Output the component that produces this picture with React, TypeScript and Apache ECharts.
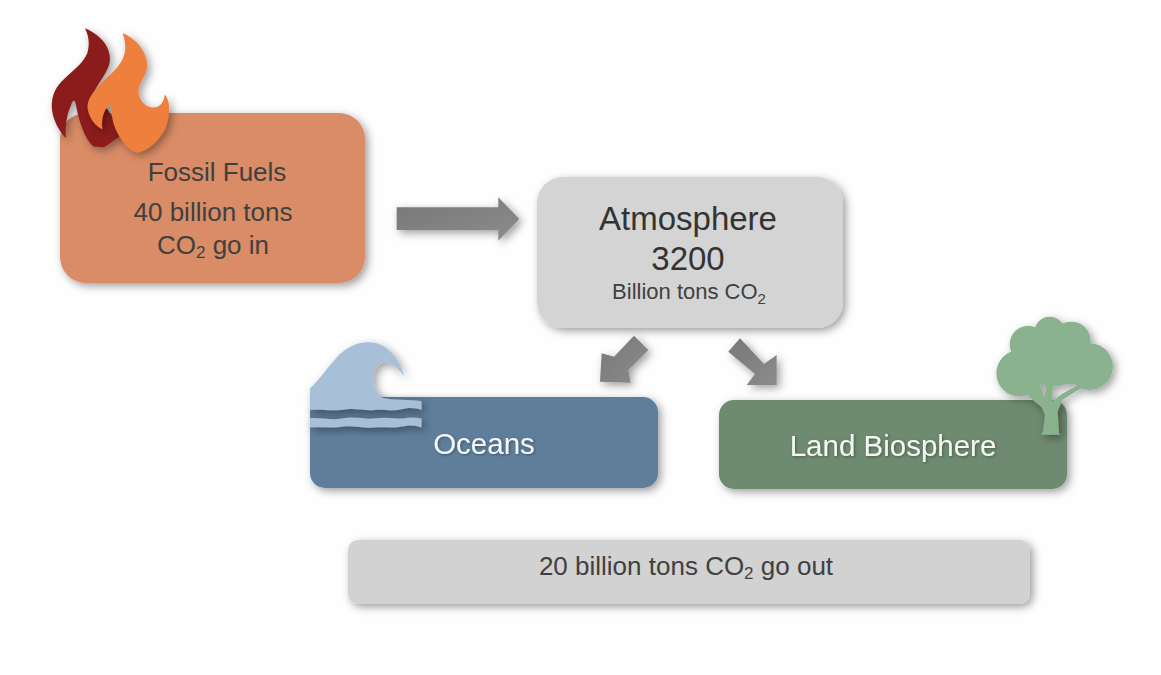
import React, { useEffect, useRef } from "react";
import * as echarts from "echarts";

const FONT = '"Liberation Sans", Arial, sans-serif';
const fossilLabels = ["Fossil Fuels", "40 billion tons"];
const atmosphereLabels = ["Atmosphere", "3200"];
const sinkLabels = ["Oceans", "Land Biosphere"];

const flameDark = "M165 55 C205 72 242 105 240 150 C238 180 215 205 195 240 L280 372 L222 412 L190 410 C165 385 148 340 138 285 C134 268 128 268 122 290 C110 315 105 350 108 385 C72 345 55 295 72 250 C92 200 150 180 172 130 C180 105 177 78 165 55 Z";
const flameOrange = "M278 70 C320 85 354 130 352 170 C350 200 320 225 327 255 C334 285 365 300 385 290 C398 282 404 268 404 254 C420 270 424 305 407 355 C387 395 355 420 325 428 C298 425 275 395 258 360 C247 335 245 310 243 286 C225 290 213 320 217 358 C198 350 178 328 173 295 C170 255 215 220 255 180 C285 150 295 115 278 70 Z";
const waveTop = "M30 175 C60 148 90 102 120 72 C150 45 190 30 230 40 C270 52 305 95 312 140 C297 112 268 92 243 100 C215 115 212 172 245 203 C280 213 330 208 365 214 L365 240 C345 233 330 232 305 238 C280 245 255 238 225 240 C195 243 170 234 140 238 C105 245 70 238 30 240 Z";
const waveBand = "M30 265 C60 262 95 272 125 266 C160 258 190 268 220 266 C255 260 285 266 310 266 C330 262 345 262 365 266 L365 293 C345 285 330 285 305 290 C280 296 250 290 220 293 C190 296 160 285 130 290 C95 296 65 290 30 293 Z";
const treeShape = "M1050 50 A45 45 0 0 1 1095 95 A45 45 0 0 1 1050 140 A45 45 0 0 1 1005 95 A45 45 0 0 1 1050 50 Z " +
  "M985 78 A55 55 0 0 1 1040 133 A55 55 0 0 1 985 188 A55 55 0 0 1 930 133 A55 55 0 0 1 985 78 Z " +
  "M1115 65 A58 58 0 0 1 1173 123 A58 58 0 0 1 1115 181 A58 58 0 0 1 1057 123 A58 58 0 0 1 1115 65 Z " +
  "M960 150 A70 70 0 0 1 1030 220 A70 70 0 0 1 960 290 A70 70 0 0 1 890 220 A70 70 0 0 1 960 150 Z " +
  "M1170 130 A70 70 0 0 1 1240 200 A70 70 0 0 1 1170 270 A70 70 0 0 1 1100 200 A70 70 0 0 1 1170 130 Z " +
  "M1060 90 A95 85 0 0 1 1155 175 A95 85 0 0 1 1060 260 A95 85 0 0 1 965 175 A95 85 0 0 1 1060 90 Z " +
  "M1000 190 L1145 190 L1145 252 L1000 252 Z " +
  "M1000 245 L1022 258 L1035 292 L1041 250 L1060 250 L1058 305 L1085 283 L1140 252 L1145 264 L1088 300 L1074 335 L1078 400 L1082 405 L1024 405 L1030 395 L1036 345 L1026 322 L985 288 Z";

echarts.graphic.registerShape("flameDark", echarts.graphic.extendPath(flameDark as any, {}));
echarts.graphic.registerShape("flameOrange", echarts.graphic.extendPath(flameOrange as any, {}));
echarts.graphic.registerShape("waveTop", echarts.graphic.extendPath(waveTop as any, {}));
echarts.graphic.registerShape("waveBand", echarts.graphic.extendPath(waveBand as any, {}));
echarts.graphic.registerShape("treeShape", echarts.graphic.extendPath(treeShape as any, {}));

const shadow = { shadowBlur: 8, shadowOffsetX: 3, shadowOffsetY: 3, shadowColor: "rgba(0,0,0,0.38)" };

const box = (x: number, y: number, w: number, h: number, r: number, fill: string) => ({
  type: "rect", shape: { x, y, width: w, height: h, r }, style: { fill, ...shadow },
});
const label = (cx: number, cy: number, text: string, size: number, fill: string, extra: any = {}) => ({
  type: "text", x: cx, y: cy,
  style: { text, fill, font: `${size}px ${FONT}`, align: "center", verticalAlign: "middle", ...extra },
});
const co2 = (cx: number, cy: number, before: string, after: string, size: number, subSize: number, fill: string) =>
  label(cx, cy, `{a|${before}}{b|2}{a|${after}}`, size, fill, {
    rich: {
      a: { fontFamily: FONT, fontSize: size, fill, lineHeight: size + 3, verticalAlign: "top" },
      b: { fontFamily: FONT, fontSize: subSize, fill, lineHeight: size + 3, verticalAlign: "bottom" },
    },
  });
const arrowFill = {
  type: "linear", x: 0, y: 0, x2: 1, y2: 1,
  colorStops: [{ offset: 0, color: "#777777" }, { offset: 1, color: "#8c8c8c" }],
};
const arrow = (pts: number[][], ox: number, oy: number, scale: number) => ({
  type: "polygon",
  shape: { points: pts.map(([a, b]) => [ox + a / scale, oy + b / scale]) },
  style: { fill: arrowFill, ...shadow },
});
const icon = (type: string, ox: number, oy: number, fill: string) => ({
  type, x: ox, y: oy, scaleX: 1 / 3, scaleY: 1 / 3,
  style: { fill, ...shadow },
});
const textGlow = { textShadowBlur: 3, textShadowOffsetX: 1, textShadowOffsetY: 1, textShadowColor: "rgba(0,0,0,0.35)" };

export default function App() {
  const ref = useRef<HTMLDivElement>(null);
  useEffect(() => {
    document.body.style.margin = "0";
    const chart = echarts.init(ref.current!, undefined, { renderer: "svg" });
    chart.setOption({
      animation: false,
      backgroundColor: "#fefefe",
      graphic: {
        elements: [
          box(60, 113, 305, 170, 26, "#D98C66"),
          box(537, 177, 306, 151, 26, "#D4D4D4"),
          box(310, 397, 348, 91, 15, "#5F7E9B"),
          box(719, 400, 348, 89, 15, "#6E8A70"),
          box(348, 540, 682, 64, 10, "#D2D2D2"),
          arrow([[50, 112], [355, 112], [355, 82], [418, 147], [355, 212], [355, 180], [50, 180]], 380, 170, 3),
          arrow([[762, 497], [805, 540], [745, 600], [752, 638], [660, 635], [665, 550], [702, 560]], 380, 170, 3),
          arrow([[1080, 505], [1045, 545], [1125, 612], [1100, 645], [1190, 645], [1190, 555], [1152, 582]], 380, 170, 3),
          icon("flameDark", 30, 10, "#8C1A1C"),
          icon("flameOrange", 30, 10, "#EE7F3E"),
          icon("waveTop", 300, 330, "#A7C0D8"),
          icon("waveBand", 300, 330, "#A7C0D8"),
          icon("treeShape", 700, 300, "#8BB28E"),
          label(217, 172, fossilLabels[0], 26, "#404040"),
          label(213, 212, fossilLabels[1], 26, "#404040"),
          co2(213, 246.5, "CO", " go in", 26, 17, "#404040"),
          label(688, 218, atmosphereLabels[0], 33, "#333333"),
          label(688, 258, atmosphereLabels[1], 33, "#333333"),
          co2(689, 293, "Billion tons CO", "", 22, 15, "#404040"),
          label(484, 443, sinkLabels[0], 29.5, "#F4F7FA", textGlow),
          label(893, 445, sinkLabels[1], 29.5, "#F4F7F2", textGlow),
          co2(686, 567, "20 billion tons CO", " go out", 26, 17, "#404040"),
        ],
      },
    });
    return () => chart.dispose();
  }, []);
  return <div ref={ref} style={{ width: 1161, height: 675 }} />;
}
